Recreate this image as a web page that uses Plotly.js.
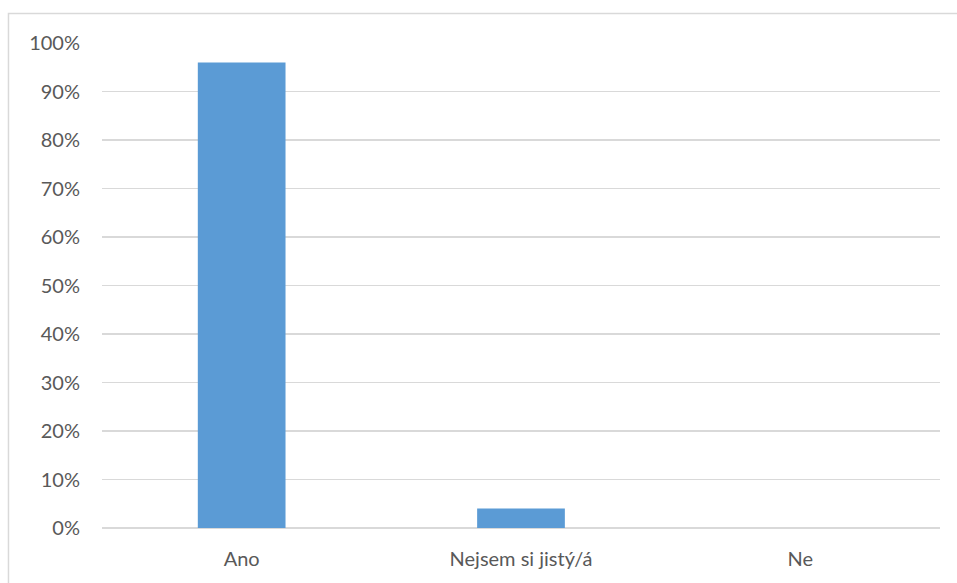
<!DOCTYPE html>
<html>
<head>
<meta charset="utf-8">
<script src="https://cdn.plot.ly/plotly-3.0.1.min.js"></script>
<style>
  html, body { margin: 0; padding: 0; background: #fff; }
  #chart { width: 957px; height: 583px; }
</style>
</head>
<body>
<div id="chart"></div>
<script>
// Answers and their shares (percent)
const categories = ['Ano', 'Nejsem si jistý/á', 'Ne'];
const shares = [96, 4, 0];
const yTicks = [0, 10, 20, 30, 40, 50, 60, 70, 80, 90, 100];
const yTickText = yTicks.map(v => v + '%');

const fontFamily = 'Lato, "Open Sans", "Liberation Sans", sans-serif';

const trace = {
  type: 'bar',
  x: categories,
  y: shares,
  marker: { color: '#5b9bd5' },
  hoverinfo: 'x+y'
};

const layout = {
  width: 957,
  height: 583,
  margin: { l: 102, r: 17, t: 43, b: 55 },
  paper_bgcolor: '#ffffff',
  plot_bgcolor: '#ffffff',
  bargap: 0.686,
  showlegend: false,
  font: { family: fontFamily, size: 20, color: '#595959' },
  xaxis: {
    type: 'category',
    showgrid: false,
    zeroline: false,
    showline: false,
    ticks: '',
    ticklabelstandoff: 17,
    tickfont: { family: fontFamily, size: 20, color: '#595959' }
  },
  yaxis: {
    range: [0, 100],
    tickvals: yTicks,
    ticktext: yTickText,
    showgrid: true,
    gridcolor: '#d9d9d9',
    gridwidth: 1.5,
    zeroline: true,
    zerolinecolor: '#d9d9d9',
    zerolinewidth: 1.5,
    showline: false,
    ticks: '',
    ticklabelstandoff: 21,
    tickfont: { family: fontFamily, size: 20, color: '#595959' }
  },
  shapes: [{
    type: 'rect',
    xref: 'paper', yref: 'paper',
    x0: -0.1116, x1: 1.05,
    y0: -0.2, y1: 1.0608,
    line: { color: '#d9d9d9', width: 1.5 },
    fillcolor: 'rgba(0,0,0,0)',
    layer: 'below'
  }]
};

Plotly.newPlot('chart', [trace], layout, { displayModeBar: false, staticPlot: true });
</script>
</body>
</html>
